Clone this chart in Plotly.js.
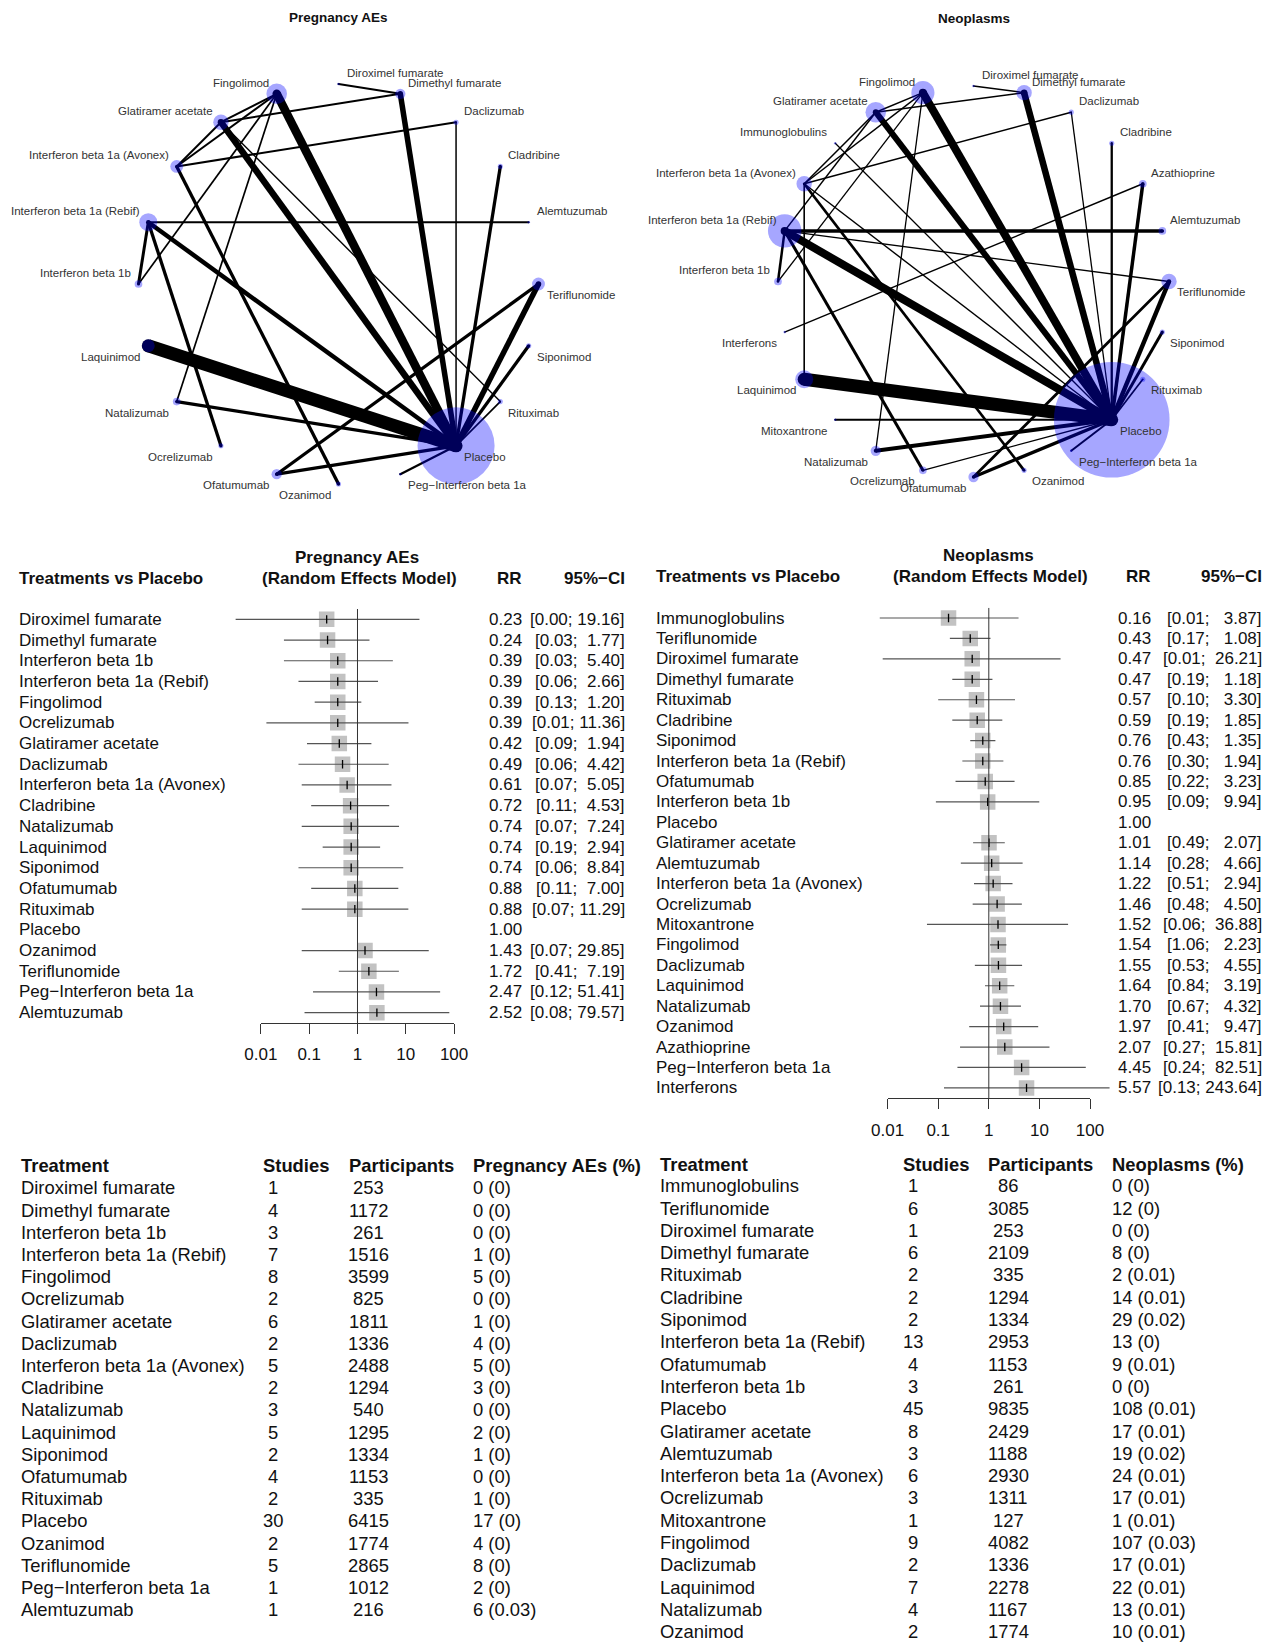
<!DOCTYPE html>
<html><head><meta charset="utf-8">
<script src="https://cdn.plot.ly/plotly-3.0.1.min.js"></script>
<style>html,body{margin:0;padding:0;background:#fff;}#chart{width:1276px;height:1646px;}</style>
</head><body><div id="chart"></div>
<script>
// ================= DATA =================
// --- Network: Pregnancy AEs (nodes in alphabetical order; studies per treatment) ---
const pregNodes = ["Alemtuzumab","Cladribine","Daclizumab","Dimethyl fumarate","Diroximel fumarate","Fingolimod","Glatiramer acetate","Interferon beta 1a (Avonex)","Interferon beta 1a (Rebif)","Interferon beta 1b","Laquinimod","Natalizumab","Ocrelizumab","Ofatumumab","Ozanimod","Peg\u2212Interferon beta 1a","Placebo","Rituximab","Siponimod","Teriflunomide"];
const pregNodeStudies = [1,2,2,4,1,8,6,5,7,3,5,3,2,4,2,1,30,2,2,5];
const pregEdgeFrom = ["Laquinimod","Fingolimod","Glatiramer acetate","Dimethyl fumarate","Teriflunomide","Interferon beta 1a (Rebif)","Interferon beta 1a (Rebif)","Interferon beta 1a (Avonex)","Interferon beta 1a (Rebif)","Natalizumab","Ofatumumab","Ofatumumab","Cladribine","Siponimod","Peg\u2212Interferon beta 1a","Rituximab","Diroximel fumarate","Glatiramer acetate","Interferon beta 1a (Avonex)","Daclizumab","Alemtuzumab","Fingolimod","Fingolimod","Glatiramer acetate","Fingolimod","Fingolimod","Glatiramer acetate"];
const pregEdgeTo   = ["Placebo","Placebo","Placebo","Placebo","Placebo","Placebo","Ocrelizumab","Ozanimod","Interferon beta 1b","Placebo","Teriflunomide","Placebo","Placebo","Placebo","Placebo","Placebo","Dimethyl fumarate","Dimethyl fumarate","Daclizumab","Placebo","Interferon beta 1a (Rebif)","Glatiramer acetate","Interferon beta 1a (Avonex)","Interferon beta 1a (Avonex)","Interferon beta 1b","Natalizumab","Rituximab"];
const pregEdgeWeight = [13,8.5,6.5,5.5,5.5,4.5,3.3,3.3,3,3.3,3.3,3.3,3.3,3.3,2.3,1.7,2,2,2,1.5,2,2,2,2,1.7,1.7,1.4];

// --- Network: Neoplasms ---
const neoNodes = ["Alemtuzumab","Azathioprine","Cladribine","Daclizumab","Dimethyl fumarate","Diroximel fumarate","Fingolimod","Glatiramer acetate","Immunoglobulins","Interferon beta 1a (Avonex)","Interferon beta 1a (Rebif)","Interferon beta 1b","Interferons","Laquinimod","Mitoxantrone","Natalizumab","Ocrelizumab","Ofatumumab","Ozanimod","Peg\u2212Interferon beta 1a","Placebo","Rituximab","Siponimod","Teriflunomide"];
const neoNodeStudies = [3,3,2,2,6,1,9,8,1,6,13,3,1,7,1,4,3,4,2,1,45,2,2,6];
const neoEdgeFrom = ["Laquinimod","Interferon beta 1a (Rebif)","Fingolimod","Glatiramer acetate","Dimethyl fumarate","Alemtuzumab","Teriflunomide","Azathioprine","Cladribine","Siponimod","Natalizumab","Interferon beta 1a (Rebif)","Interferon beta 1a (Avonex)","Mitoxantrone","Ofatumumab","Ofatumumab","Ocrelizumab","Fingolimod","Immunoglobulins","Interferon beta 1a (Rebif)","Azathioprine","Interferon beta 1a (Avonex)","Daclizumab","Daclizumab","Interferon beta 1a (Avonex)","Interferon beta 1a (Rebif)","Fingolimod","Peg\u2212Interferon beta 1a","Rituximab","Diroximel fumarate","Glatiramer acetate","Fingolimod","Fingolimod","Glatiramer acetate","Glatiramer acetate"];
const neoEdgeTo   = ["Placebo","Placebo","Placebo","Placebo","Placebo","Interferon beta 1a (Rebif)","Placebo","Placebo","Placebo","Placebo","Placebo","Ocrelizumab","Ozanimod","Placebo","Placebo","Teriflunomide","Placebo","Natalizumab","Placebo","Teriflunomide","Interferons","Laquinimod","Interferon beta 1a (Avonex)","Placebo","Placebo","Interferon beta 1b","Interferon beta 1b","Placebo","Placebo","Dimethyl fumarate","Dimethyl fumarate","Glatiramer acetate","Interferon beta 1a (Avonex)","Interferon beta 1a (Avonex)","Interferon beta 1a (Rebif)"];
const neoEdgeWeight = [13,8,8,6,6.5,3.5,4.5,3.5,2.3,3,4,3,2.7,2.2,3.3,2.7,1.4,1.3,1.3,1.4,1.4,1.6,1.5,1.3,1.4,2.5,1.3,2,1.7,1.5,1.5,1.5,1.5,1.5,1.5];

// --- Forest: Pregnancy AEs (RR vs placebo, 95% CI) ---
const pregForestNames = ["Diroximel fumarate","Dimethyl fumarate","Interferon beta 1b","Interferon beta 1a (Rebif)","Fingolimod","Ocrelizumab","Glatiramer acetate","Daclizumab","Interferon beta 1a (Avonex)","Cladribine","Natalizumab","Laquinimod","Siponimod","Ofatumumab","Rituximab","Placebo","Ozanimod","Teriflunomide","Peg\u2212Interferon beta 1a","Alemtuzumab"];
const pregRR  = [0.23,0.24,0.39,0.39,0.39,0.39,0.42,0.49,0.61,0.72,0.74,0.74,0.74,0.88,0.88,1.00,1.43,1.72,2.47,2.52];
const pregLo  = [0.003,0.03,0.03,0.06,0.13,0.013,0.09,0.06,0.07,0.11,0.07,0.19,0.06,0.11,0.07,null,0.07,0.41,0.12,0.08];
const pregHi  = [19.16,1.77,5.40,2.66,1.20,11.36,1.94,4.42,5.05,4.53,7.24,2.94,8.84,7.00,11.29,null,29.85,7.19,51.41,79.57];

// --- Forest: Neoplasms ---
const neoForestNames = ["Immunoglobulins","Teriflunomide","Diroximel fumarate","Dimethyl fumarate","Rituximab","Cladribine","Siponimod","Interferon beta 1a (Rebif)","Ofatumumab","Interferon beta 1b","Placebo","Glatiramer acetate","Alemtuzumab","Interferon beta 1a (Avonex)","Ocrelizumab","Mitoxantrone","Fingolimod","Daclizumab","Laquinimod","Natalizumab","Ozanimod","Azathioprine","Peg\u2212Interferon beta 1a","Interferons"];
const neoRR = [0.16,0.43,0.47,0.47,0.57,0.59,0.76,0.76,0.85,0.95,1.00,1.01,1.14,1.22,1.46,1.52,1.54,1.55,1.64,1.70,1.97,2.07,4.45,5.57];
const neoLo = [0.007,0.17,0.008,0.19,0.10,0.19,0.43,0.30,0.22,0.09,null,0.49,0.28,0.51,0.48,0.06,1.06,0.53,0.84,0.67,0.41,0.27,0.24,0.13];
const neoHi = [3.87,1.08,26.21,1.18,3.30,1.85,1.35,1.94,3.23,9.94,null,2.07,4.66,2.94,4.50,36.88,2.23,4.55,3.19,4.32,9.47,15.81,82.51,243.64];

const forestTickVals = [0.01,0.1,1,10,100];
const forestTickText = ["0.01","0.1","1","10","100"];

// --- Table: Pregnancy AEs ---
const pregTabNames = pregForestNames;
const pregTabStudies = [1,4,3,7,8,2,6,2,5,2,3,5,2,4,2,30,2,5,1,1];
const pregTabParticipants = [253,1172,261,1516,3599,825,1811,1336,2488,1294,540,1295,1334,1153,335,6415,1774,2865,1012,216];
const pregTabEvents = [0,0,0,1,5,0,1,4,5,3,0,2,1,0,1,17,4,8,2,6];
const pregTabPct = [0,0,0,0,0,0,0,0,0,0,0,0,0,0,0,0,0,0,0,0.03];

// --- Table: Neoplasms (rows visible in the figure) ---
const neoTabNames = ["Immunoglobulins","Teriflunomide","Diroximel fumarate","Dimethyl fumarate","Rituximab","Cladribine","Siponimod","Interferon beta 1a (Rebif)","Ofatumumab","Interferon beta 1b","Placebo","Glatiramer acetate","Alemtuzumab","Interferon beta 1a (Avonex)","Ocrelizumab","Mitoxantrone","Fingolimod","Daclizumab","Laquinimod","Natalizumab","Ozanimod"];
const neoTabStudies = [1,6,1,6,2,2,2,13,4,3,45,8,3,6,3,1,9,2,7,4,2];
const neoTabParticipants = [86,3085,253,2109,335,1294,1334,2953,1153,261,9835,2429,1188,2930,1311,127,4082,1336,2278,1167,1774];
const neoTabEvents = [0,12,0,8,2,14,29,13,9,0,108,17,19,24,17,1,107,17,22,13,10];
const neoTabPct = [0,0,0,0,0.01,0.01,0.02,0,0.01,0,0.01,0.01,0.02,0.01,0.01,0.01,0.03,0.01,0.01,0.01,0.01];

// ================= DRAWING =================
const W = 1276, H = 1646;
const FONT = '"Liberation Sans", Arial, Helvetica, sans-serif';
const px = v => v / W, py = v => 1 - v / H;
const traces = [], ann = [];
const layout = {width: W, height: H, margin: {l:0, r:0, t:0, b:0}, showlegend: false,
  paper_bgcolor: '#fff', plot_bgcolor: 'rgba(0,0,0,0)', font: {family: FONT, color: '#111'}, annotations: ann};
const axName = (id) => (id[0] === 'x' ? 'xaxis' : 'yaxis') + id.slice(1);

function txt(o) { return Object.assign({showarrow: false, xref: 'paper', yref: 'paper', yanchor: 'middle'}, o); }

function network(nodes, studies, eFrom, eTo, eW, xa, ya, cx, cy, r, title, titleY) {
  const n = nodes.length, pos = {};
  nodes.forEach((nm, k) => { const a = 2 * Math.PI * (k + 1) / n; pos[nm] = [Math.cos(a), Math.sin(a)]; });
  const half = 1.3 * r;
  layout[axName(xa)] = {domain: [px(cx - half), px(cx + half)], range: [-1.3, 1.3], visible: false, fixedrange: true};
  layout[axName(ya)] = {domain: [py(cy + half), py(cy - half)], range: [-1.3, 1.3], visible: false, fixedrange: true};
  eFrom.forEach((a, i) => {
    const p = pos[a], q = pos[eTo[i]];
    traces.push({type: 'scatter', mode: 'lines+markers', x: [p[0], q[0]], y: [p[1], q[1]], xaxis: xa, yaxis: ya,
      line: {color: '#000', width: eW[i]}, marker: {color: '#000', size: eW[i], line: {width: 0}}, hoverinfo: 'skip'});
  });
  traces.push({type: 'scatter', mode: 'markers', x: nodes.map(nm => pos[nm][0]), y: nodes.map(nm => pos[nm][1]),
    xaxis: xa, yaxis: ya, marker: {color: 'rgba(0,0,255,0.5)', size: studies.map(s => s * 2.57), line: {width: 0}}, hoverinfo: 'skip'});
  nodes.forEach(nm => {
    const [x, y] = pos[nm]; const right = x >= 0, above = y > 0;
    ann.push(txt({xref: xa, yref: ya, x: x, y: y, text: nm, xanchor: right ? 'left' : 'right',
      xshift: right ? 6 : -6, yshift: above ? 11 : -11, font: {size: 11.5, color: '#333', family: FONT}}));
  });
  ann.push(txt({x: px(cx), y: py(titleY), xanchor: 'center', text: '<b>' + title + '</b>', font: {size: 13.5, color: '#111'}}));
}

function forest(o) {
  const n = o.names.length;
  const bottom = o.top + n * o.rowH;
  layout[axName(o.ya)] = {domain: [py(bottom), py(o.top)], range: [n - 0.5, -0.5], visible: false, fixedrange: true};
  layout[axName(o.xa)] = {type: 'log', domain: [px(o.one + o.range[0] * o.dec), px(o.one + o.range[1] * o.dec)],
    range: o.range, visible: false, fixedrange: true};
  layout[axName(o.xd)] = {type: 'log', domain: [px(o.one - 2 * o.dec), px(o.one + 2 * o.dec)], range: [-2, 2],
    anchor: o.ya, showline: true, linecolor: '#333', linewidth: 1, ticks: 'outside', ticklen: 10, tickwidth: 1,
    tickcolor: '#333', tickvals: forestTickVals, ticktext: forestTickText, showgrid: false, zeroline: false,
    ticklabelstandoff: 6, tickfont: {size: 17, family: FONT, color: '#111'}, fixedrange: true};
  const idx = o.rr.map((v, i) => i).filter(i => o.lo[i] !== null);
  // squares
  traces.push({type: 'scatter', mode: 'markers', x: idx.map(i => o.rr[i]), y: idx, xaxis: o.xa, yaxis: o.ya,
    marker: {symbol: 'square', size: 15.5, color: '#c2c2c2', line: {width: 0}}, hoverinfo: 'skip'});
  // CI lines
  const cx = [], cy = [];
  idx.forEach(i => { cx.push(o.lo[i], o.hi[i], null); cy.push(i, i, null); });
  traces.push({type: 'scatter', mode: 'lines', x: cx, y: cy, xaxis: o.xa, yaxis: o.ya,
    line: {color: '#555', width: 1.2}, hoverinfo: 'skip'});
  // estimate ticks
  traces.push({type: 'scatter', mode: 'markers', x: idx.map(i => o.rr[i]), y: idx, xaxis: o.xa, yaxis: o.ya,
    marker: {symbol: 'line-ns-open', size: 6, color: '#000', line: {color: '#000', width: 1.3}}, hoverinfo: 'skip'});
  // reference line at RR = 1
  traces.push({type: 'scatter', mode: 'lines', x: [1, 1], y: [-0.5, n - 0.5], xaxis: o.xd, yaxis: o.ya,
    line: {color: '#333', width: 1}, hoverinfo: 'skip'});
  // headers
  const hf = {size: 17, family: FONT, color: '#111'};
  ann.push(txt({x: px(o.one), y: py(o.top - 52), xanchor: 'center', text: '<b>' + o.title + '</b>', font: hf}));
  ann.push(txt({x: px(o.one + 2), y: py(o.top - 31), xanchor: 'center', text: '<b>(Random Effects Model)</b>', font: hf}));
  ann.push(txt({x: px(o.labelX - 2), y: py(o.top - 31), xanchor: 'left', text: '<b>Treatments vs Placebo</b>', font: hf}));
  ann.push(txt({x: px(o.rrX + 2), y: py(o.top - 31), xanchor: 'right', text: '<b>RR</b>', font: hf}));
  ann.push(txt({x: px(o.ciX + 2), y: py(o.top - 31), xanchor: 'right', text: '<b>95%\u2212CI</b>', font: hf}));
  // row text
  const hiStr = o.hi.map(v => v === null ? '' : v.toFixed(2));
  const maxLen = Math.max(...hiStr.map(s => s.length));
  o.names.forEach((nm, i) => {
    ann.push(txt({x: px(o.labelX - 2), yref: o.ya, y: i, xanchor: 'left', text: nm, font: hf}));
    ann.push(txt({x: px(o.rrX + 2), yref: o.ya, y: i, xanchor: 'right', text: o.rr[i].toFixed(2), font: hf}));
    if (o.lo[i] !== null) {
      const ci = '[' + o.lo[i].toFixed(2) + '; ' + '\u00A0'.repeat(maxLen - hiStr[i].length) + hiStr[i] + ']';
      ann.push(txt({x: px(o.ciX + 2), yref: o.ya, y: i, xanchor: 'right', text: ci, font: hf}));
    }
  });
}

function table(o) {
  const f = {size: 18.4, family: FONT, color: '#111'};
  const hdr = (x, t) => ann.push(txt({x: px(x - 2), y: py(o.headerY), xanchor: 'left', text: '<b>' + t + '</b>', font: f}));
  hdr(o.nameX, 'Treatment'); hdr(o.studHdrX, 'Studies'); hdr(o.partHdrX, 'Participants'); hdr(o.evX, o.evHeader);
  o.names.forEach((nm, i) => {
    const y = py(o.firstY + i * o.rowH);
    ann.push(txt({x: px(o.nameX - 2), y: y, xanchor: 'left', text: nm, font: f}));
    ann.push(txt({x: px(o.studX), y: y, xanchor: 'center', text: String(o.studies[i]), font: f}));
    ann.push(txt({x: px(o.partX), y: y, xanchor: 'center', text: String(o.part[i]), font: f}));
    ann.push(txt({x: px(o.evX - 2), y: y, xanchor: 'left', text: o.events[i] + ' (' + o.pct[i] + ')', font: f}));
  });
}

network(pregNodes, pregNodeStudies, pregEdgeFrom, pregEdgeTo, pregEdgeWeight, 'x', 'y', 338.5, 284, 200, 'Pregnancy AEs', 17);
network(neoNodes, neoNodeStudies, neoEdgeFrom, neoEdgeTo, neoEdgeWeight, 'x2', 'y2', 973.5, 281.5, 195.5, 'Neoplasms', 19);

forest({names: pregForestNames, rr: pregRR, lo: pregLo, hi: pregHi, xa: 'x3', xd: 'x5', ya: 'y3',
  one: 357.5, dec: 48.3, range: [-2.7, 2.4], top: 609, rowH: 20.7, labelX: 19, rrX: 522, ciX: 625, title: 'Pregnancy AEs'});
forest({names: neoForestNames, rr: neoRR, lo: neoLo, hi: neoHi, xa: 'x4', xd: 'x6', ya: 'y4',
  one: 988.8, dec: 50.6, range: [-2.4, 2.5], top: 607.8, rowH: 20.43, labelX: 656, rrX: 1150.5, ciX: 1262, title: 'Neoplasms'});

table({names: pregTabNames, studies: pregTabStudies, part: pregTabParticipants, events: pregTabEvents, pct: pregTabPct,
  nameX: 21, studX: 273, partX: 368.5, evX: 473, studHdrX: 263, partHdrX: 348.6, headerY: 1165.7, firstY: 1187.8, rowH: 22.2,
  evHeader: 'Pregnancy AEs (%)'});
table({names: neoTabNames, studies: neoTabStudies, part: neoTabParticipants, events: neoTabEvents, pct: neoTabPct,
  nameX: 660, studX: 912.6, partX: 1008, evX: 1112, studHdrX: 903, partHdrX: 987.7, headerY: 1164, firstY: 1185.7, rowH: 22.3,
  evHeader: 'Neoplasms (%)'});

Plotly.newPlot('chart', traces, layout, {staticPlot: true, displayModeBar: false});
</script></body></html>
